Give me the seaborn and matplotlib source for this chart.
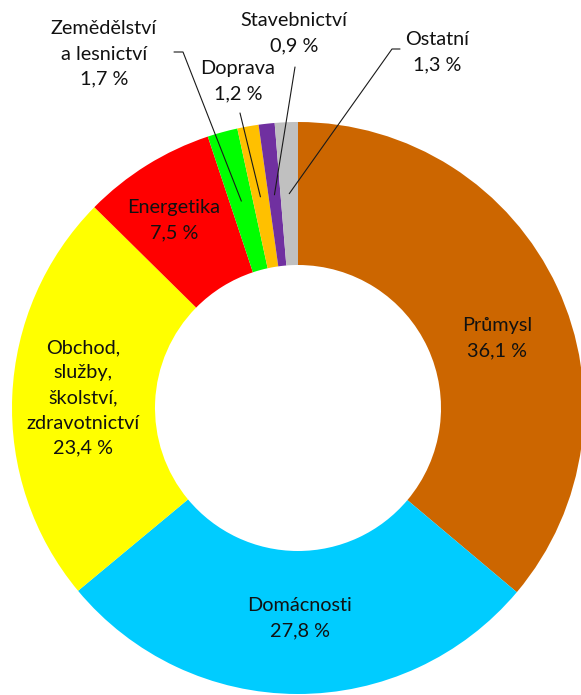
import matplotlib
matplotlib.use("Agg")
import matplotlib.pyplot as plt
import seaborn as sns
import numpy as np

# Final energy consumption by sector (%)
sectors = ["Průmysl", "Domácnosti", "Obchod,\nslužby,\nškolství,\nzdravotnictví",
           "Energetika", "Zemědělství\na lesnictví", "Doprava", "Stavebnictví", "Ostatní"]
shares = [36.1, 27.8, 23.4, 7.5, 1.7, 1.2, 0.9, 1.3]
colors = ["#CC6600", "#00CCFF", "#FFFF00", "#FF0000", "#00FF00", "#FFC000", "#7030A0", "#C0C0C0"]

sns.set_theme(style="white")
plt.rcParams["font.family"] = ["Lato", "DejaVu Sans"]

W, H = 581, 695
CX, CY, R = 298, 408, 286   # pie centre and radius in pixels


def px(x, y):
    """Pixel position (from the top-left corner) to data coordinates."""
    return (x - CX) / R, (CY - y) / R


fig = plt.figure(figsize=(W / 100, H / 100), dpi=100)
ax = fig.add_axes([0, 0, 1, 1])
wedges, _ = ax.pie(shares, colors=colors, startangle=90, counterclock=False,
                   radius=1.0, wedgeprops=dict(width=0.5, linewidth=0))
ax.set_xlim(-CX / R, (W - CX) / R)
ax.set_ylim(-(H - CY) / R, CY / R)
ax.axis("off")

# label centres (pixel layout)
label_pos = [(497, 338), (300, 618), (83, 398), (174, 220),
             (104, 54), (238, 81), (294, 33), (437, 52)]
# leader lines for the thin slices: points from the label towards the slice
leaders = {4: [(174, 52), (183, 52)],
           5: [(240, 113)],
           6: [(295, 67)],
           7: [(400, 49), (392, 49)]}

txt_color = "#111111"
for i, (name, val) in enumerate(zip(sectors, shares)):
    label = f"{name}\n{val:.1f} %".replace(".", ",")
    x, y = px(*label_pos[i])
    ax.text(x, y, label, ha="center", va="center", fontsize=14.3,
            color=txt_color, linespacing=1.58)
    if i in leaders:
        w = wedges[i]
        mid = np.deg2rad((w.theta1 + w.theta2) / 2)
        ax_pt = (0.75 * np.cos(mid), 0.75 * np.sin(mid))
        pts = [px(*p) for p in leaders[i]] + [ax_pt]
        xs, ys = zip(*pts)
        ax.plot(xs, ys, color="#1a1a1a", lw=0.8)

fig.savefig("out.png", dpi=100)
